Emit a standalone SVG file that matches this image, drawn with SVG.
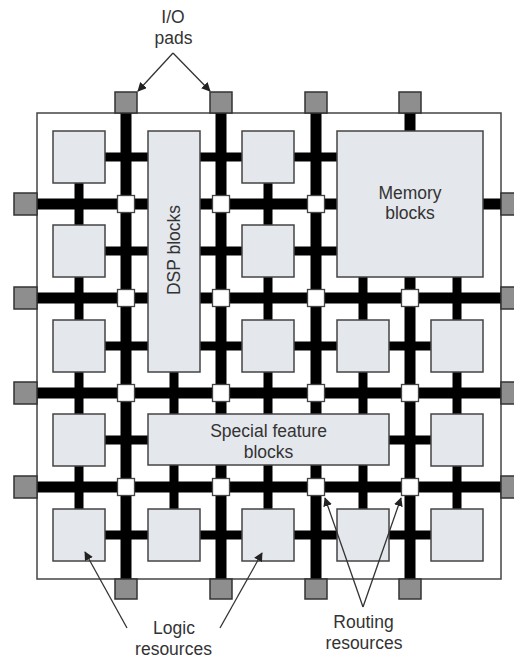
<svg xmlns="http://www.w3.org/2000/svg" width="514" height="658" viewBox="0 0 514 658">
<defs>
<style>
.frame{fill:#fff;stroke:#444;stroke-width:1.5}
.stub{stroke:#000;stroke-width:9;fill:none}
.chan{stroke:#000;stroke-width:11;fill:none}
.pad{fill:#8e8e8e;stroke:#333;stroke-width:1.5}
.blk{fill:#e4e7ec;stroke:#444;stroke-width:1.5}
.sw{fill:#fff;stroke:#444;stroke-width:1.3}
.lbl{font-family:"Liberation Sans",Arial,sans-serif;font-size:17.5px;fill:#333;text-anchor:middle}
.arr{stroke:#333;stroke-width:1.3;fill:none;marker-end:url(#ah)}
</style>
<marker id="ah" viewBox="0 0 10 10" refX="9" refY="5" markerWidth="9" markerHeight="9" markerUnits="userSpaceOnUse" orient="auto">
<path d="M0,0 L10,5 L0,10 Z" fill="#222"/>
</marker>
</defs>
<rect id="frame" class="frame" x="37" y="113" width="464" height="466"/>
<g id="connectors">
<g id="stubs">
<line class="stub" x1="79" y1="157" x2="457" y2="157"/>
<line class="stub" x1="79" y1="251" x2="457" y2="251"/>
<line class="stub" x1="79" y1="346" x2="457" y2="346"/>
<line class="stub" x1="79" y1="440" x2="457" y2="440"/>
<line class="stub" x1="79" y1="535" x2="457" y2="535"/>
<line class="stub" x1="79" y1="157" x2="79" y2="535"/>
<line class="stub" x1="174" y1="157" x2="174" y2="535"/>
<line class="stub" x1="268" y1="157" x2="268" y2="535"/>
<line class="stub" x1="363" y1="157" x2="363" y2="535"/>
<line class="stub" x1="457" y1="157" x2="457" y2="535"/>
</g>
<g id="channels">
<line class="chan" x1="37" y1="204" x2="501" y2="204"/>
<line class="chan" x1="37" y1="298" x2="501" y2="298"/>
<line class="chan" x1="37" y1="393" x2="501" y2="393"/>
<line class="chan" x1="37" y1="487" x2="501" y2="487"/>
<line class="chan" x1="126" y1="113" x2="126" y2="579"/>
<line class="chan" x1="221" y1="113" x2="221" y2="579"/>
<line class="chan" x1="316" y1="113" x2="316" y2="579"/>
<line class="chan" x1="410" y1="113" x2="410" y2="579"/>
</g>
</g>
<g id="io-pads">
<rect class="pad" x="115" y="92" width="22" height="21"/>
<rect class="pad" x="210" y="92" width="22" height="21"/>
<rect class="pad" x="305" y="92" width="22" height="21"/>
<rect class="pad" x="399" y="92" width="22" height="21"/>
<rect class="pad" x="115" y="579" width="22" height="20"/>
<rect class="pad" x="210" y="579" width="22" height="20"/>
<rect class="pad" x="305" y="579" width="22" height="20"/>
<rect class="pad" x="399" y="579" width="22" height="20"/>
<rect class="pad" x="14" y="193" width="23" height="22"/>
<rect class="pad" x="14" y="287" width="23" height="22"/>
<rect class="pad" x="14" y="382" width="23" height="22"/>
<rect class="pad" x="14" y="476" width="23" height="22"/>
<rect class="pad" x="501" y="193" width="23" height="22"/>
<rect class="pad" x="501" y="287" width="23" height="22"/>
<rect class="pad" x="501" y="382" width="23" height="22"/>
<rect class="pad" x="501" y="476" width="23" height="22"/>
</g>
<g id="logic-blocks">
<rect class="blk" x="53" y="131" width="52" height="52"/>
<rect class="blk" x="242" y="131" width="52" height="52"/>
<rect class="blk" x="53" y="225" width="52" height="52"/>
<rect class="blk" x="242" y="225" width="52" height="52"/>
<rect class="blk" x="53" y="320" width="52" height="52"/>
<rect class="blk" x="242" y="320" width="52" height="52"/>
<rect class="blk" x="337" y="320" width="52" height="52"/>
<rect class="blk" x="431" y="320" width="52" height="52"/>
<rect class="blk" x="53" y="414" width="52" height="52"/>
<rect class="blk" x="431" y="414" width="52" height="52"/>
<rect class="blk" x="53" y="509" width="52" height="52"/>
<rect class="blk" x="148" y="509" width="52" height="52"/>
<rect class="blk" x="242" y="509" width="52" height="52"/>
<rect class="blk" x="337" y="509" width="52" height="52"/>
<rect class="blk" x="431" y="509" width="52" height="52"/>
</g>
<g id="dsp-blocks">
<rect class="blk" x="148" y="131" width="52" height="241"/>
<text class="lbl" transform="translate(180,250) rotate(-90)">DSP blocks</text>
</g>
<g id="memory-blocks">
<rect class="blk" x="337" y="131" width="146" height="146"/>
<text class="lbl" x="410" y="199">Memory</text>
<text class="lbl" x="410" y="219">blocks</text>
</g>
<g id="special-feature-blocks">
<rect class="blk" x="148" y="414" width="241" height="51"/>
<text class="lbl" x="268.5" y="437">Special feature</text>
<text class="lbl" x="268.5" y="458">blocks</text>
</g>
<g id="switch-boxes">
<rect class="sw" x="117.5" y="195.5" width="17" height="17"/>
<rect class="sw" x="212.5" y="195.5" width="17" height="17"/>
<rect class="sw" x="307.5" y="195.5" width="17" height="17"/>
<rect class="sw" x="117.5" y="289.5" width="17" height="17"/>
<rect class="sw" x="212.5" y="289.5" width="17" height="17"/>
<rect class="sw" x="307.5" y="289.5" width="17" height="17"/>
<rect class="sw" x="401.5" y="289.5" width="17" height="17"/>
<rect class="sw" x="117.5" y="384.5" width="17" height="17"/>
<rect class="sw" x="212.5" y="384.5" width="17" height="17"/>
<rect class="sw" x="307.5" y="384.5" width="17" height="17"/>
<rect class="sw" x="401.5" y="384.5" width="17" height="17"/>
<rect class="sw" x="117.5" y="478.5" width="17" height="17"/>
<rect class="sw" x="212.5" y="478.5" width="17" height="17"/>
<rect class="sw" x="307.5" y="478.5" width="17" height="17"/>
<rect class="sw" x="401.5" y="478.5" width="17" height="17"/>
</g>
<g id="label-io-pads">
<text class="lbl" x="173" y="23">I/O</text>
<text class="lbl" x="173.5" y="44">pads</text>
</g>
<g id="label-logic-resources">
<text class="lbl" x="174" y="634">Logic</text>
<text class="lbl" x="173.5" y="655">resources</text>
</g>
<g id="label-routing-resources">
<text class="lbl" x="363.5" y="628">Routing</text>
<text class="lbl" x="364" y="649">resources</text>
</g>
<g id="annotation-arrows">
<line class="arr" x1="173" y1="53" x2="138" y2="91"/>
<line class="arr" x1="173" y1="53" x2="210" y2="91"/>
<line class="arr" x1="127" y1="628" x2="85" y2="552"/>
<line class="arr" x1="220" y1="628" x2="262" y2="553"/>
<line class="arr" x1="363" y1="607" x2="325" y2="498"/>
<line class="arr" x1="363" y1="607" x2="401" y2="498"/>
</g>
</svg>
